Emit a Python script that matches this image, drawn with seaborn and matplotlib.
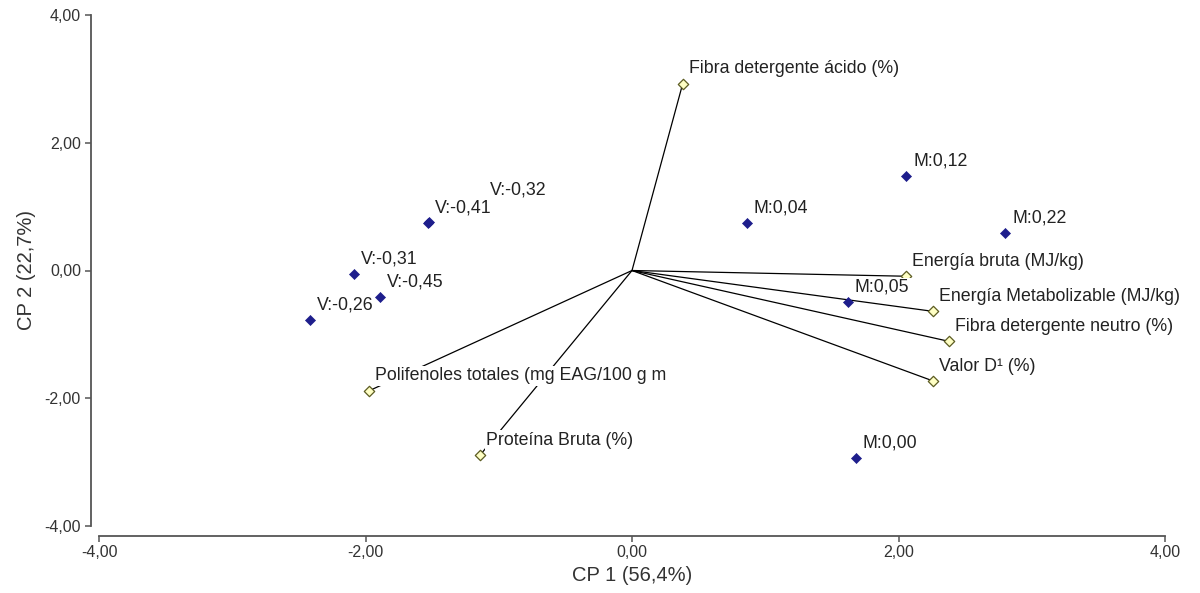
import pandas as pd
import numpy as np
import matplotlib
matplotlib.use("Agg")
import matplotlib.pyplot as plt
from matplotlib.ticker import FuncFormatter
import seaborn as sns

# observations (scores)
obs_labels = ["V:-0,41", "V:-0,32", "V:-0,31", "V:-0,45", "V:-0,26",
              "M:0,04", "M:0,12", "M:0,22", "M:0,05", "M:0,00"]
obs_cp1 = [-1.53, -1.52, -2.09, -1.89, -2.42, 0.86, 2.06, 2.80, 1.62, 1.68]
obs_cp2 = [0.75, 0.76, -0.05, -0.41, -0.77, 0.75, 1.48, 0.58, -0.50, -2.94]

# variables (loadings)
var_labels = ["Fibra detergente ácido (%)", "Energía bruta (MJ/kg)",
              "Energía Metabolizable (MJ/kg)", "Fibra detergente neutro (%)",
              "Valor D¹ (%)", "Polifenoles totales (mg EAG/100 g m",
              "Proteína Bruta (%)"]
var_cp1 = [0.38, 2.06, 2.26, 2.38, 2.26, -1.97, -1.14]
var_cp2 = [2.92, -0.09, -0.64, -1.11, -1.73, -1.88, -2.89]

ticks = [-4, -2, 0, 2, 4]

obs = pd.DataFrame({"label": obs_labels, "CP1": obs_cp1, "CP2": obs_cp2})
var = pd.DataFrame({"label": var_labels, "CP1": var_cp1, "CP2": var_cp2})

# segments origin -> variable
seg = pd.concat([
    pd.DataFrame({"label": var_labels, "CP1": 0.0, "CP2": 0.0, "o": 0}),
    var.assign(o=1),
]).sort_values(["label", "o"])

sns.set_style("ticks")
plt.rcParams["font.family"] = ["Liberation Sans", "DejaVu Sans"]

fig = plt.figure(figsize=(12, 5.93), dpi=100)
ax = fig.add_axes([99 / 1200, 67 / 593, 1066 / 1200, 511 / 593])

sns.lineplot(data=seg, x="CP1", y="CP2", units="label", estimator=None,
             sort=False, color="black", lw=0.9, ax=ax, zorder=1)
sns.scatterplot(data=var, x="CP1", y="CP2", marker="D", s=28,
                color="#ffffc4", edgecolor="#5c5c22", linewidth=0.9,
                ax=ax, zorder=2)
sns.scatterplot(data=obs, x="CP1", y="CP2", marker="D", s=26,
                color="#1e1e8c", edgecolor="#1e1e8c", linewidth=0.5,
                ax=ax, zorder=4)

box = dict(facecolor="white", edgecolor="none", pad=1.0)
for _, r in var.iterrows():
    ax.annotate(r["label"], (r["CP1"], r["CP2"]), xytext=(6, 15),
                textcoords="offset pixels", ha="left", va="center",
                fontsize=12.8, color="#222222", bbox=box, zorder=3)

for _, r in obs.iterrows():
    off = (60, 32) if r["label"] == "V:-0,32" else (7, 15)
    ax.annotate(r["label"], (r["CP1"], r["CP2"]), xytext=off,
                textcoords="offset pixels", ha="left", va="center",
                fontsize=12.8, color="#222222", bbox=box, zorder=3)

ax.set_xlim(-4, 4)
ax.set_ylim(-4, 4)
ax.set_xticks(ticks)
ax.set_yticks(ticks)
fmt = FuncFormatter(lambda v, p: f"{v:.2f}".replace(".", ","))
ax.xaxis.set_major_formatter(fmt)
ax.yaxis.set_major_formatter(fmt)

for s in ["top", "right"]:
    ax.spines[s].set_visible(False)
ax.spines["left"].set_position(("outward", 6))
ax.spines["bottom"].set_position(("outward", 7))
for s in ["left", "bottom"]:
    ax.spines[s].set_color("#555555")
    ax.spines[s].set_linewidth(1.3)
ax.tick_params(direction="out", length=4, width=1.1, color="#555555",
               labelsize=11.5, labelcolor="#333333", pad=3)

ax.set_xlabel("CP 1 (56,4%)", fontsize=14.5, color="#333333", labelpad=4)
ax.set_ylabel("CP 2 (22,7%)", fontsize=14.5, color="#333333", labelpad=6)

fig.savefig("out.png", dpi=100)
